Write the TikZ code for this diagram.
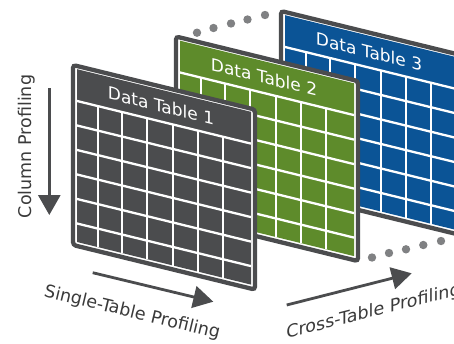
\documentclass[tikz,border=0pt]{standalone}
\usepackage{fontspec}
\setmainfont{DejaVu Sans}
\usetikzlibrary{arrows.meta}
\definecolor{framecol}{HTML}{4B4C4E}
\definecolor{greencol}{HTML}{5E8B2B}
\definecolor{bluecol}{HTML}{0B5496}
\definecolor{dotcol}{HTML}{808183}
\definecolor{labelcol}{HTML}{3A3A3A}
\tikzset{
 tableframe/.style={line width=4.3pt, draw=framecol, fill=white, rounded corners=3pt},
 gridline/.style={white, line width=2.3pt},
 tabletitle/.style={text=white, font=\fontsize{17}{19}\selectfont, anchor=base, inner sep=0pt, transform shape},
 greydot/.style={circle, fill=dotcol, minimum size=8.4pt, inner sep=0pt},
 flowarrow/.style={draw=framecol, line width=2.8pt, -{Triangle[length=20pt,width=22pt]}},
 proflabel/.style={text=labelcol, font=\fontsize{17.5}{19}\selectfont, inner sep=0pt, anchor=base},
}
\newcommand\DataTableDraw[4]{%
\begin{scope}[shift={#1}, yslant=-0.245]
 \draw[tableframe] (0,0) rectangle (182,180);
 \fill[#2] (4,3.2) rectangle (178,176);
 \foreach \v in {35,59.5,84,108.5,133,157.5} \draw[gridline] (4,\v) -- (178,\v);
 \foreach \u in {24.7,49.3,74.3,100.3,124.7,150.3} \draw[gridline] (\u,35) -- (\u,176);
 \node[tabletitle] (#4) at (88,25.4) {#3};
\end{scope}}
\begin{document}
\begin{tikzpicture}[x=1pt,y=-1pt]
\useasboundingbox (0,0) rectangle (454,343);
\clip (0,0) rectangle (454,343);
% table 3
\DataTableDraw{(281,11)}{bluecol}{Data Table 3}{title3}
% dots
\foreach \x/\y [count=\i] in {197/32.7,213.5/28,231/23.5,247.5/19.5,265/15}
  \node[greydot] (topdot\i) at (\x,\y) {};
\foreach \x/\y [count=\i] in {372/257.5,389/253,406/249.3,423.3/245,441/241}
  \node[greydot] (botdot\i) at (\x,\y) {};
% table 2
\DataTableDraw{(176,36.5)}{greencol}{Data Table 2}{title2}
% table 1
\DataTableDraw{(73,65)}{framecol}{Data Table 1}{title1}
% arrows
\coordinate (cp1) at (49.3,88);
\coordinate (cp2) at (49.3,215);
\draw[flowarrow] (cp1) -- (cp2);
\coordinate (sp1) at (92.7,272.7);
\coordinate (sp2) at (213.3,301.7);
\draw[flowarrow] (sp1) -- (sp2);
\coordinate (xp1) at (286.7,305);
\coordinate (xp2) at (411.7,273.3);
\draw[flowarrow] (xp1) -- (xp2);
% labels
\node[proflabel, rotate=90] (colprof) at (31.7,146.5) {Column Profiling};
\node[proflabel, rotate=-13.5] (singprof) at (131,317.5) {Single-Table Profiling};
\node[proflabel, yslant=0.253] (crossprof) at (373.5,316.5) {Cross-Table Profiling};
\end{tikzpicture}
\end{document}
